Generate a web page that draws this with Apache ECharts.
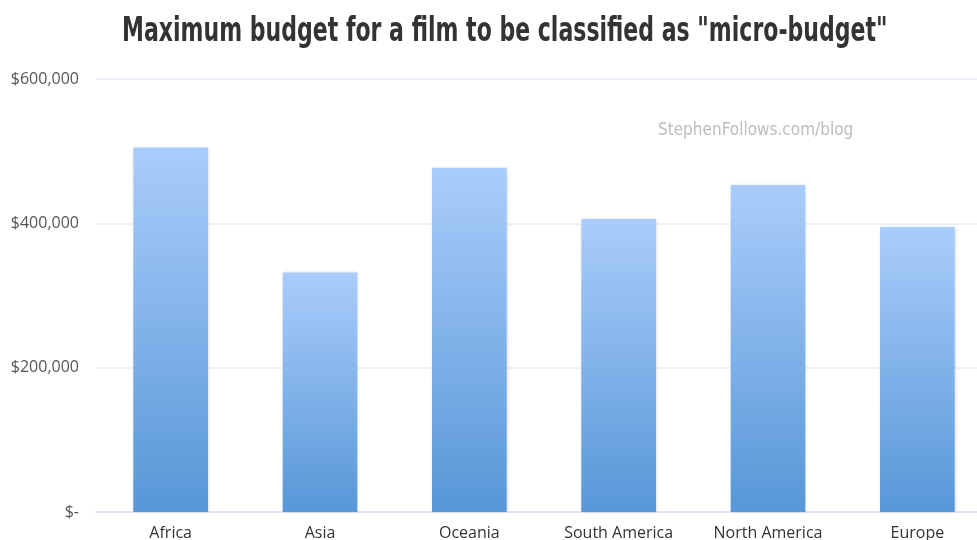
<!DOCTYPE html>
<html>
<head>
<meta charset="utf-8">
<script src="https://cdn.jsdelivr.net/npm/echarts@6/dist/echarts.min.js"></script>
<style>
  html, body { margin: 0; padding: 0; background: #ffffff; }
  #chart { width: 977px; height: 540px; }
</style>
</head>
<body>
<div id="chart"></div>
<script>
// Regions and their maximum micro-budget thresholds (USD)
const regions = ['Africa', 'Asia', 'Oceania', 'South America', 'North America', 'Europe'];
const maxBudget = [505000, 332000, 477000, 406000, 453000, 395000];
const yTicks = [0, 200000, 400000, 600000];

const titleText = 'Maximum budget for a film to be classified as "micro-budget"';

function money(v) {
  if (v === 0) return '$-';
  return '$' + v.toLocaleString('en-US');
}

const chart = echarts.init(document.getElementById('chart'), null, { renderer: 'canvas' });

chart.setOption({
  backgroundColor: '#ffffff',
  animation: false,
  graphic: [{
    // tall, horizontally squeezed headline
    type: 'text',
    x: 122,
    y: 15,
    scaleX: 0.72,
    style: {
      text: titleText,
      fontFamily: 'DejaVu Sans Condensed',
      fontWeight: 'bold',
      fontSize: 34,
      fill: '#333333',
      verticalAlign: 'top'
    }
  }, {
    type: 'text',
    left: 658,
    top: 122,
    style: {
      text: 'StephenFollows.com/blog',
      fontFamily: 'DejaVu Sans Condensed',
      fontSize: 17,
      fill: '#bdbdbd'
    }
  }],
  // the plot runs a little past the right edge of the page
  grid: { left: 96, width: 896, top: 79, bottom: 28, outerBoundsMode: 'none', containLabel: false },
  xAxis: {
    type: 'category',
    data: regions,
    axisLine: { show: true, lineStyle: { color: '#dbe6f2', width: 2 } },
    axisTick: { show: false },
    axisLabel: {
      margin: 13,
      fontFamily: 'Open Sans',
      fontSize: 16,
      color: '#333333'
    }
  },
  yAxis: {
    type: 'value',
    min: yTicks[0],
    max: yTicks[yTicks.length - 1],
    interval: yTicks[1] - yTicks[0],
    axisLine: { show: false },
    axisTick: { show: false },
    splitLine: { lineStyle: { color: '#e4edf7', width: 1.5 } },
    axisLabel: {
      margin: 17,
      fontFamily: 'Open Sans',
      fontSize: 16,
      color: '#555555',
      formatter: money
    }
  },
  series: [{
    type: 'bar',
    data: maxBudget,
    barWidth: '50%',
    itemStyle: {
      color: new echarts.graphic.LinearGradient(0, 0, 0, 1, [
        { offset: 0, color: '#aacdfb' },
        { offset: 1, color: '#5797d7' }
      ]),
      shadowColor: 'rgba(0,0,0,0.12)',
      shadowBlur: 3,
      shadowOffsetX: 1
    }
  }]
});
</script>
</body>
</html>
